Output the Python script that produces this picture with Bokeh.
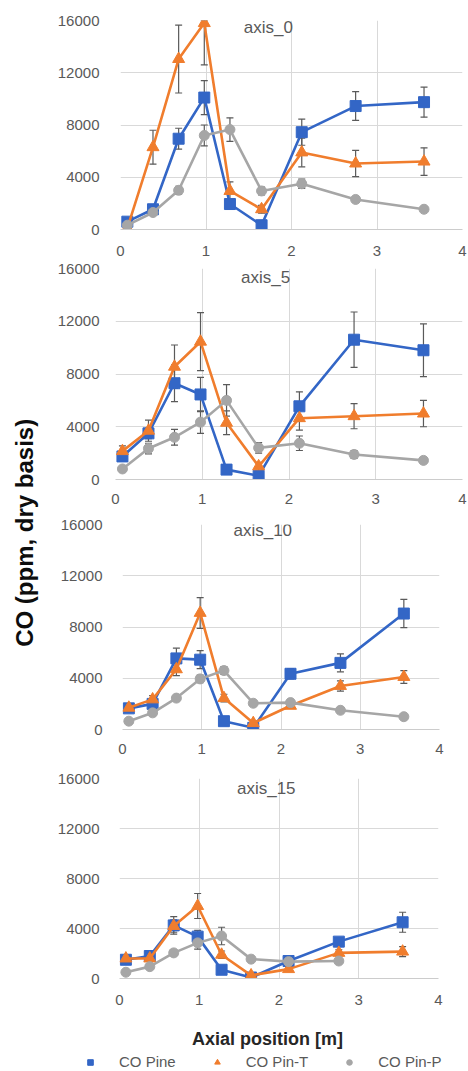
import numpy as np
from bokeh.plotting import figure
from bokeh.layouts import row, column
from bokeh.models import (ColumnDataSource, Whisker, TeeHead, FixedTicker, Range1d,
                          Label, Legend, LegendItem, BoxAnnotation)
from bokeh.embed import file_html
from bokeh.resources import INLINE

# ---------------- data ----------------
positions = [0.08, 0.38, 0.68, 0.98, 1.28, 1.65, 2.12, 2.75, 3.55]
titles = ["axis_0", "axis_5", "axis_10", "axis_15"]
series_names = ["CO Pine", "CO Pin-T", "CO Pin-P"]
x_ticks = [0, 1, 2, 3, 4]
y_ticks = [0, 4000, 8000, 12000, 16000]

pine_0 = [600, 1550, 6950, 10100, 1950, 330, 7450, 9450, 9750]
pine_0_err = [250, 300, 800, 1300, 400, 200, 1000, 1100, 1150]
pint_0 = [100, 6300, 13050, 15800, 2950, 1550, 5900, 5050, 5200]
pint_0_err = [200, 1300, 2600, 3200, 700, 300, 1100, 1000, 1050]
pinp_0 = [330, 1300, 3000, 7200, 7650, 2950, 3500, 2300, 1550]
pinp_0_err = [150, 200, 300, 800, 900, 300, 350, 200, 150]

pine_5 = [1750, 3500, 7300, 6450, 750, 280, 5550, 10600, 9800]
pine_5_err = [300, 400, 1400, 1300, 200, 150, 1100, 2100, 2000]
pint_5 = [2150, 3700, 8550, 10450, 4300, 1000, 4650, 4800, 5000]
pint_5_err = [400, 800, 1650, 2200, 900, 300, 900, 950, 1000]
pinp_5 = [800, 2350, 3200, 4350, 6000, 2400, 2750, 1900, 1450]
pinp_5_err = [150, 400, 600, 850, 1200, 400, 550, 300, 150]

pine_10 = [1650, 2000, 5550, 5450, 650, 130, 4350, 5200, 9050]
pine_10_err = [200, 300, 800, 700, 200, 100, 400, 700, 1100]
pint_10 = [1700, 2350, 4700, 9100, 2450, 500, 1850, 3400, 4100]
pint_10_err = [200, 300, 500, 1200, 300, 150, 200, 400, 500]
pinp_10 = [650, 1300, 2450, 3950, 4600, 2050, 2100, 1500, 1000]
pinp_10_err = [100, 150, 200, 300, 300, 150, 150, 150, 100]

pine_15 = [1500, 1800, 4250, 3350, 700, 80, 1400, 2950, 4500]
pine_15_err = [200, 250, 700, 500, 150, 80, 200, 300, 800]
pint_15 = [1600, 1600, 4200, 5800, 1900, 250, 750, 2050, 2150]
pint_15_err = [200, 200, 500, 1000, 300, 100, 150, 250, 400]
pinp_15 = [500, 950, 2050, 2850, 3400, 1550, 1350, 1400]
pinp_15_err = [100, 150, 200, 500, 700, 150, 150, 150]

panels_data = [
    [(pine_0, pine_0_err), (pint_0, pint_0_err), (pinp_0, pinp_0_err)],
    [(pine_5, pine_5_err), (pint_5, pint_5_err), (pinp_5, pinp_5_err)],
    [(pine_10, pine_10_err), (pint_10, pint_10_err), (pinp_10, pinp_10_err)],
    [(pine_15, pine_15_err), (pint_15, pint_15_err), (pinp_15, pinp_15_err)],
]

# ---------------- style ----------------
COLORS = ["#3366c6", "#f07d2d", "#a6a6a6"]
MARKERS = ["square", "triangle", "circle"]
SIZES = [11, 12, 10]
ERR_COLOR = "#5a5a5a"
TXT = "#595959"
FONT = "Liberation Sans"
GRID = "#d9d9d9"
YMAX = 16000

FIG_W = 414
# (height, top, bottom, left, right, y label standoff, x label standoff, title x, title y)
layout_spec = [
    (260, 20, 31, 60, 6, 15, 10, 1.73, 15450),
    (251, 8, 32, 60, 6, 10, 8, 1.73, 15300),
    (255, 13, 37, 68, 29, 14, 8, 1.77, 15500),
    (259, 12, 47, 58, 30, 14, 10, 1.84, 15200),
]

panels = []
for i, (title, pdata) in enumerate(zip(titles, panels_data)):
    h, bt, bb, bl, br, ystd, xstd, tx, ty = layout_spec[i]
    p = figure(width=FIG_W, height=h, x_range=Range1d(0, 4), y_range=Range1d(0, YMAX),
               output_backend="svg", toolbar_location=None,
               min_border_top=bt, min_border_bottom=bb, min_border_left=bl, min_border_right=br)
    p.frame_align = False
    p.outline_line_color = None
    p.background_fill_color = "white"
    p.border_fill_color = "white"
    for ax in (p.xaxis[0], p.yaxis[0]):
        ax.major_tick_line_color = None
        ax.minor_tick_line_color = None
        ax.major_label_text_font = FONT
        ax.major_label_text_font_size = "15px"
        ax.major_label_text_color = TXT
    p.xaxis[0].ticker = FixedTicker(ticks=x_ticks)
    p.yaxis[0].ticker = FixedTicker(ticks=y_ticks)
    p.xaxis[0].axis_line_color = "#cccccc"
    p.yaxis[0].axis_line_color = None
    p.xaxis[0].major_label_standoff = xstd
    p.yaxis[0].major_label_standoff = ystd
    p.xgrid.grid_line_color = GRID
    p.ygrid.grid_line_color = GRID

    for k, (vals, errs) in enumerate(pdata):
        n = len(vals)
        xs = positions[:n]
        v = np.array(vals, dtype=float)
        e = np.array(errs, dtype=float)
        src = ColumnDataSource(dict(x=xs, y=v, upper=np.minimum(v + e, YMAX), lower=np.maximum(v - e, 0)))
        w = Whisker(source=src, base="x", upper="upper", lower="lower", dimension="height",
                    line_color=ERR_COLOR, line_width=1.2,
                    upper_head=TeeHead(size=7, line_color=ERR_COLOR, line_width=1.2),
                    lower_head=TeeHead(size=7, line_color=ERR_COLOR, line_width=1.2))
        p.add_layout(w)
        p.line("x", "y", source=src, line_color=COLORS[k], line_width=2.6)
        p.scatter("x", "y", source=src, marker=MARKERS[k], size=SIZES[k],
                  fill_color=COLORS[k], line_color=COLORS[k])

    p.add_layout(Label(x=tx, y=ty, text=title, text_align="center", text_baseline="middle",
                       text_font=FONT, text_font_size="17px", text_color=TXT))
    p.add_layout(BoxAnnotation(left=0.5, right=FIG_W + 20, top=-5, bottom=h - 0.5,
                               left_units="canvas", right_units="canvas",
                               top_units="canvas", bottom_units="canvas",
                               fill_color=None, fill_alpha=0, line_color=GRID, line_width=1))
    panels.append(p)

# ---------------- bottom: x label + legend ----------------
BOT_H = 44
bot = figure(width=FIG_W, height=BOT_H, x_range=Range1d(0, FIG_W), y_range=Range1d(0, BOT_H),
             output_backend="svg", toolbar_location=None,
             min_border=0, min_border_left=0, min_border_right=0, min_border_top=0, min_border_bottom=0)
bot.frame_align = False
bot.axis.visible = False
bot.grid.visible = False
bot.outline_line_color = None
bot.text(x=[213], y=[31], text=["Axial position [m]"], text_align="center", text_baseline="middle",
         text_font={"value": FONT}, text_font_size={"value": "18px"}, text_font_style="bold",
         text_color="#262626")
items = []
for k, name in enumerate(series_names):
    r = bot.scatter(x=[-1000], y=[-1000], marker=MARKERS[k], size=7,
                    fill_color=COLORS[k], line_color=COLORS[k])
    items.append(LegendItem(label=name, renderers=[r]))
leg = Legend(items=items, orientation="horizontal", location=(29, -1),
             glyph_width=14, glyph_height=16, label_standoff=22, spacing=34,
             padding=0, margin=0, border_line_color=None, background_fill_alpha=0,
             label_text_font=FONT, label_text_font_size="15px", label_text_color=TXT)
bot.add_layout(leg)

# ---------------- left: y label ----------------
LAB_W = 54
total_h = sum(s[0] for s in layout_spec) + BOT_H
lab = figure(width=LAB_W, height=total_h, x_range=Range1d(0, LAB_W), y_range=Range1d(0, total_h),
             output_backend="svg", toolbar_location=None,
             min_border=0, min_border_left=0, min_border_right=0, min_border_top=0, min_border_bottom=0)
lab.frame_align = False
lab.axis.visible = False
lab.grid.visible = False
lab.outline_line_color = None
lab.text(x=[24], y=[total_h - 529], text=["CO  (ppm, dry basis)"], angle=np.pi / 2,
         text_align="center", text_baseline="middle",
         text_font={"value": FONT}, text_font_size={"value": "24px"}, text_font_style="bold",
         text_color="#0d0d0d")

page = row(lab, column(*panels, bot, spacing=0), spacing=0)
open("out.html", "w").write(file_html(page, INLINE))
